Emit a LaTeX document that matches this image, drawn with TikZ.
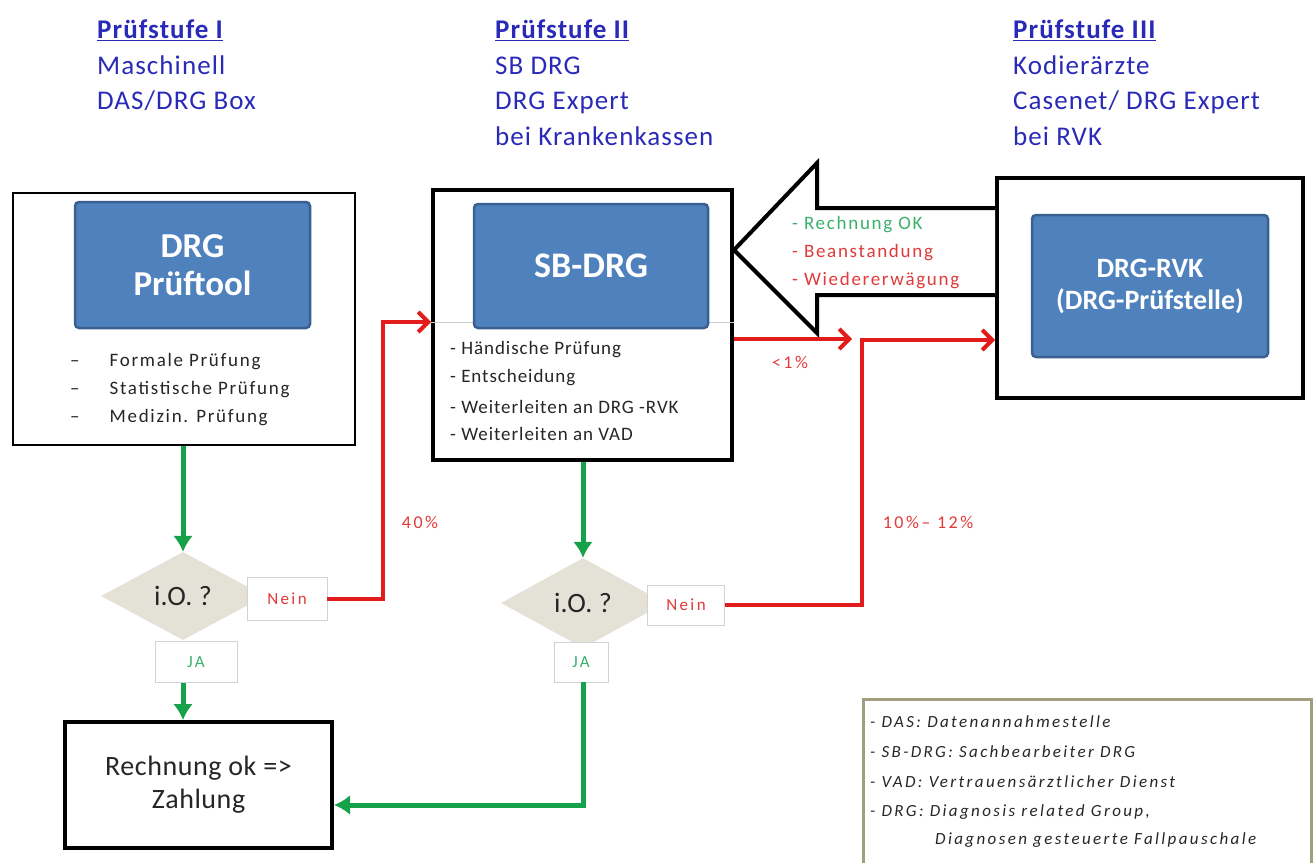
\documentclass[tikz,border=0pt]{standalone}
\usepackage{fontspec}
\setmainfont{Carlito}
\usetikzlibrary{arrows.meta,shapes.geometric}
\definecolor{ttl}{HTML}{2A2AB8}
\definecolor{bluefill}{HTML}{4F81BD}
\definecolor{blueedge}{HTML}{3A6091}
\definecolor{rd}{HTML}{E21B1B}
\definecolor{rdtxt}{HTML}{E03A3A}
\definecolor{gr}{HTML}{16A24A}
\definecolor{grtxt}{HTML}{3BB06A}
\definecolor{diafill}{HTML}{E4E1D6}
\definecolor{lgedge}{HTML}{A29E80}
\definecolor{txt}{HTML}{262626}
\newcommand{\fsz}[3]{\fontsize{#1}{#2}\selectfont\addfontfeature{LetterSpace=#3}}
\tikzset{
  outerbox/.style={draw=black, line width=#1, fill=white, inner sep=0pt},
  bluebox/.style={draw=blueedge, line width=2.5pt, fill=bluefill, rounded corners=4pt, text=white, align=center, inner sep=0pt, font=\fsz{35}{38}{0}\bfseries},
  titleblk/.style={anchor=north west, align=left, text=ttl, font=\fsz{27}{35.5}{4}, inner sep=0pt},
  listone/.style={anchor=west, text=txt, inner sep=0pt, font=\fsz{19}{19}{9}},
  listtwo/.style={anchor=west, text=txt, inner sep=0pt, font=\fsz{19}{19}{5}},
  arrtxt/.style={anchor=west, inner sep=0pt, font=\fsz{19}{19}{9}},
  diabox/.style={diamond, aspect=1.85, fill=diafill, draw=none, inner sep=0pt, font=\fsz{28}{28}{0}, text=txt},
  lblbox/.style={draw=gray!35, fill=white, line width=0.8pt, inner sep=0pt, font=\fsz{17}{17}{14}},
  garrow/.style={draw=gr, line width=5pt, -{Latex[length=16pt,width=20pt]}},
  rarrow/.style={draw=rd, line width=4pt, -{Straight Barb[length=10pt,width=20pt,line width=4pt]}},
  pct/.style={text=rdtxt, font=\fsz{18}{18}{14}, inner sep=0pt},
  legtxt/.style={anchor=west, inner sep=0pt, text=txt, font=\fsz{17}{17}{14}\itshape},
}
\begin{document}
\begin{tikzpicture}[x=1pt,y=-1pt]
\useasboundingbox (0,0) rectangle (1316,862);

% titles
\node[titleblk] (t1) at (97,20) {\textbf{\underline{Prüfstufe I}}\\Maschinell\\DAS/DRG Box};
\node[titleblk] (t2) at (495,20) {\textbf{\underline{Prüfstufe II}}\\SB DRG\\DRG Expert\\bei Krankenkassen};
\node[titleblk] (t3) at (1013,20) {\textbf{\underline{Prüfstufe III}}\\Kodierärzte\\Casenet/ DRG Expert\\bei RVK};

% box 1
\node[outerbox=1.6pt, minimum width=342pt, minimum height=252pt] (box1) at (184,319) {};
\node[bluebox, minimum width=235pt, minimum height=126pt] (blue1) at (192.5,265) {DRG\\Prüftool};
\node[listone] (l1a) at (70,362) {–\hspace{30pt}Formale Prüfung};
\node[listone] (l1b) at (70,390) {–\hspace{30pt}Statistische Prüfung};
\node[listone] (l1c) at (70,418) {–\hspace{30pt}Medizin. Prüfung};

% box 2
\node[outerbox=4pt, minimum width=299pt, minimum height=270pt] (box2) at (582.5,325) {};
\draw[gray!40, line width=0.8pt] (box2.west |- 0,322) coordinate (d2l) -- (box2.east |- 0,322) coordinate (d2r);
\node[bluebox, minimum width=234pt, minimum height=124pt, font=\fsz{36}{38}{0}\bfseries] (blue2) at (591,266) {SB-DRG};
\node[listtwo] (l2a) at (450,350) {- Händische Prüfung};
\node[listtwo] (l2b) at (450,378) {- Entscheidung};
\node[listtwo] (l2c) at (450,407) {- Weiterleiten an DRG -RVK};
\node[listtwo] (l2d) at (450,434) {- Weiterleiten an VAD};

% box 3
\node[outerbox=4pt, minimum width=306pt, minimum height=220pt] (box3) at (1150,288) {};
\node[bluebox, minimum width=236pt, minimum height=142pt, font=\fsz{28}{32}{0}\bfseries] (blue3) at (1150,286) {DRG-RVK\\(DRG-Prüfstelle)};

% hollow arrow
\coordinate (ha1) at (box3.west |- 0,208);
\coordinate (ha2) at (box3.west |- 0,295);
\coordinate (hatip) at (box2.east |- 0,250);
\draw[line width=4pt, fill=white, line join=miter] (ha1) -- (817,208) -- (817,163) -- (hatip) -- (817,333) -- (817,295) -- (ha2);
\node[arrtxt, text=grtxt] (a1) at (792,225) {- Rechnung OK};
\node[arrtxt, text=rdtxt] (a2) at (792,253) {- Beanstandung};
\node[arrtxt, text=rdtxt] (a3) at (792,281) {- Wiedererwägung};

% decisions
\node[diabox, minimum width=164pt, minimum height=88pt] (dia1) at (183,596) {i.O. ?};
\node[diabox, minimum width=164pt, minimum height=90pt] (dia2) at (583,603) {i.O. ?};
\node[lblbox, minimum width=80pt, minimum height=43pt, text=rdtxt] (nein1) at (287,599) {Nein};
\node[lblbox, minimum width=82pt, minimum height=41pt, text=grtxt] (ja1) at (196,662) {JA};
\node[lblbox, minimum width=77pt, minimum height=40pt, text=rdtxt] (nein2) at (686,605) {Nein};
\node[lblbox, minimum width=54pt, minimum height=40pt, text=grtxt] (ja2) at (581,662) {JA};

% result box
\node[outerbox=4pt, minimum width=267pt, minimum height=126pt, align=center, text=txt, font=\fsz{28}{33}{2}] (rech) at (198.5,785) {Rechnung ok =>\\Zahlung};

% legend
\node[draw=lgedge, line width=3pt, fill=white, minimum width=448pt, minimum height=172pt, inner sep=0pt] (leg) at (1087,785) {};
\node[legtxt] (g1) at (870,722) {- DAS: Datenannahmestelle};
\node[legtxt] (g2) at (870,752) {- SB-DRG: Sachbearbeiter DRG};
\node[legtxt] (g3) at (870,782) {- VAD: Vertrauensärztlicher Dienst};
\node[legtxt] (g4) at (870,812) {- DRG: Diagnosis related Group,};
\node[legtxt] (g5) at (935,840) {Diagnosen gesteuerte Fallpauschale};

% connectors
\draw[garrow] (box1.south -| dia1.north) -- (dia1.north);
\draw[garrow] (ja1.south -| dia1.north) -- (rech.north -| dia1.north);
\draw[garrow] (box2.south -| dia2.north) -- (dia2.north);
\coordinate (rechin) at (rech.east |- 0,805);
\draw[garrow] (ja2.south -| dia2.north) |- (rechin);

\coordinate (b2in) at (box2.west |- 0,322);
\draw[rarrow] (nein1.east) -- (nein1.east -| 383,0) |- (b2in);
\coordinate (b2out) at (box2.east |- 0,339);
\coordinate (lt1) at (852,339);
\draw[rarrow] (b2out) -- (lt1);
\coordinate (b3in) at (box3.west |- 0,340);
\draw[rarrow] (nein2.east) -- (nein2.east -| 862,0) |- (b3in);

\node[pct] (p40) at (420,522) {40\%};
\node[pct] (p1012) at (928,522) {10\%– 12\%};
\node[pct] (p1) at (790,362) {<1\%};
\end{tikzpicture}
\end{document}
